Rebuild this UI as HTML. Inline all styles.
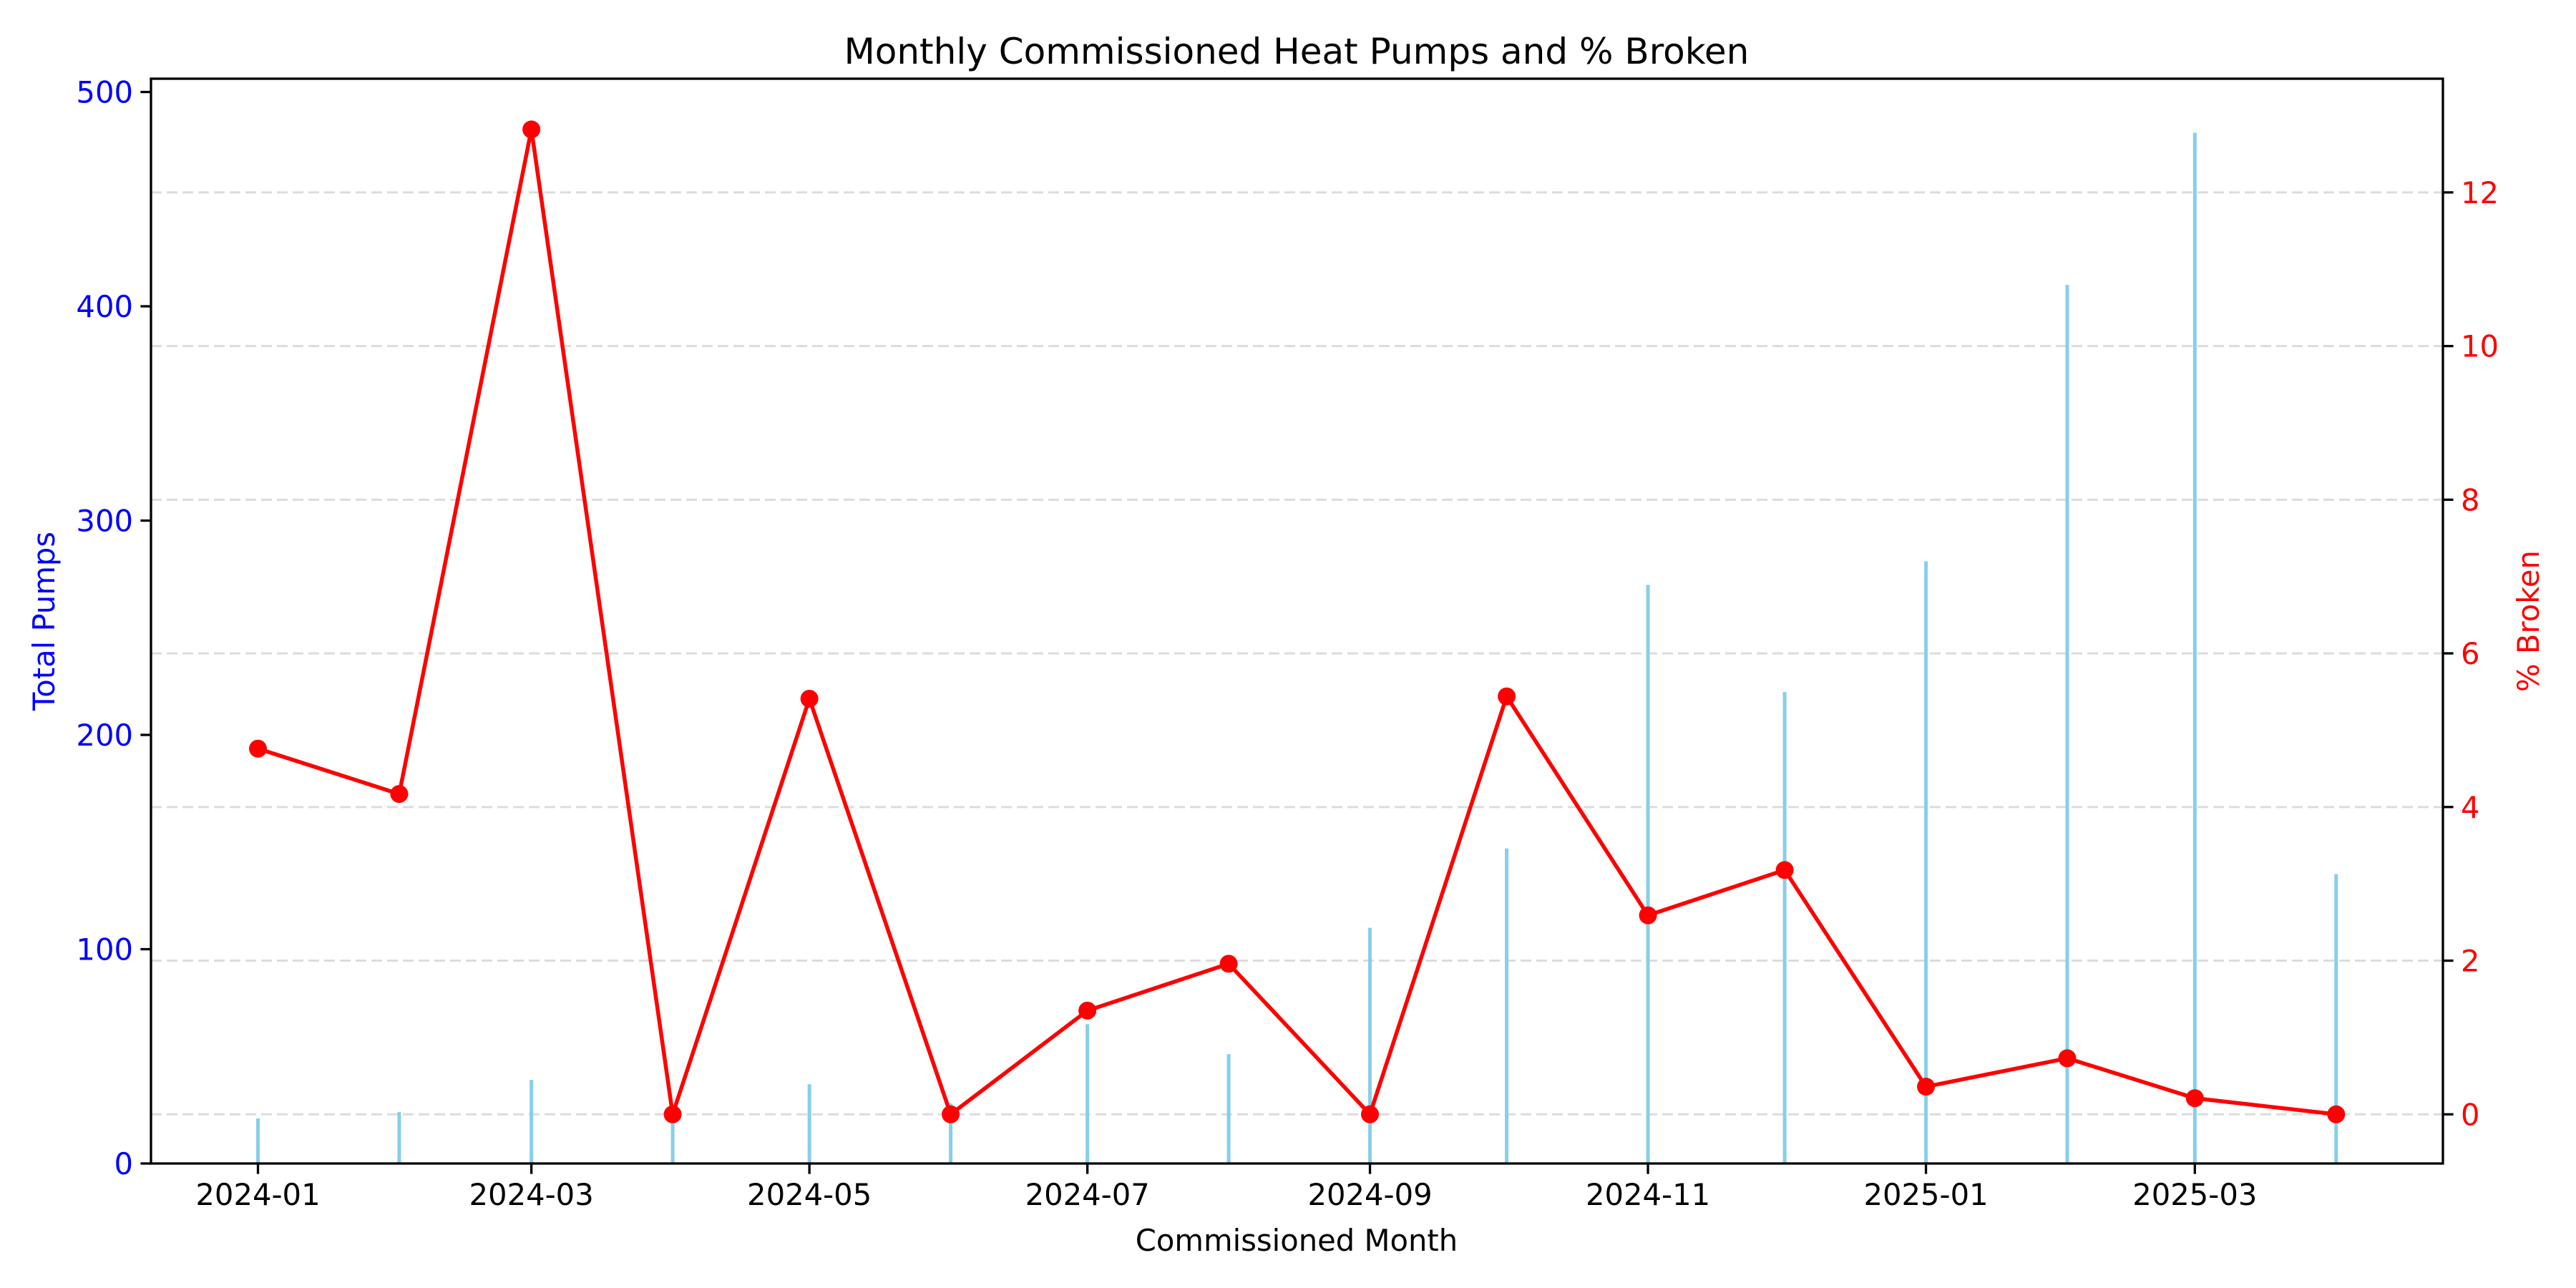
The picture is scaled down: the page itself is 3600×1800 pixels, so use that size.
<!DOCTYPE html>
<html><head><meta charset="utf-8"><style>
html,body{margin:0;padding:0;background:#fff;}
svg{display:block;font-family:"DejaVu Sans","Liberation Sans",sans-serif;}
</style></head><body>
<svg id="chart" width="3600" height="1800" viewBox="0 0 3600 1800" xmlns="http://www.w3.org/2000/svg">
<rect width="3600" height="1800" fill="#fff"/>
<g id="grid"></g>
<g id="bars"></g>
<g id="line"></g>
<g id="axes"></g>
<text x="1812" y="89" text-anchor="middle" font-size="50">Monthly Commissioned Heat Pumps and % Broken</text>
<text x="1812" y="1748" text-anchor="middle" font-size="41.7">Commissioned Month</text>
<text transform="translate(76,868) rotate(-90)" text-anchor="middle" font-size="41.7" fill="#0000ff">Total Pumps</text>
<text transform="translate(3548,868) rotate(-90)" text-anchor="middle" font-size="41.7" fill="#ff0000">% Broken</text>
</svg>
<script>
const months = ["2024-01","2024-02","2024-03","2024-04","2024-05","2024-06","2024-07","2024-08","2024-09","2024-10","2024-11","2024-12","2025-01","2025-02","2025-03","2025-04"];
const totalPumps = [21,24,39,27,37,28,65,51,110,147,270,220,281,410,481,135];
const pctBroken = [4.76,4.17,12.82,0,5.41,0,1.35,1.96,0,5.44,2.59,3.18,0.36,0.73,0.21,0];
const xTickLabels = ["2024-01","2024-03","2024-05","2024-07","2024-09","2024-11","2025-01","2025-03"];
const leftTicks = [0,100,200,300,400,500];
const rightTicks = [0,2,4,6,8,10,12];

const NS="http://www.w3.org/2000/svg";
const L=211,R=3414,T=110,B=1626;
const day0=Date.UTC(2024,0,1);
function dayOf(m){const [y,mo]=m.split("-").map(Number);return (Date.UTC(y,mo-1,1)-day0)/86400000;}
function xS(m){return 360.5+dayOf(m)*6.369;}
function yL(v){return B-(v/506.2)*(B-T);}
function yR(v){return B-((v+0.64)/(13.48+0.64))*(B-T);}
function mk(tag,attrs,parent){const e=document.createElementNS(NS,tag);for(const k in attrs)e.setAttribute(k,attrs[k]);parent.appendChild(e);return e;}

const grid=document.getElementById('grid');
rightTicks.forEach(t=>{
  const l=mk('line',{x1:L,x2:R,y1:yR(t),y2:yR(t),stroke:'#dcdcdc','stroke-width':3,'stroke-dasharray':'15 7'},grid);
  
  
});

const bars=document.getElementById('bars');
months.forEach((m,i)=>{
  const x=xS(m);
  const r=mk('rect',{x:x-2.5,y:yL(totalPumps[i]),width:5,height:B-yL(totalPumps[i]),fill:'#87ceeb'},bars);
  
  
});

const line=document.getElementById('line');
const pts=months.map((m,i)=>xS(m)+','+yR(pctBroken[i])).join(' ');
const pl=mk('polyline',{points:pts,fill:'none',stroke:'#ff0000','stroke-width':5.5,'stroke-linejoin':'round'},line);


months.forEach((m,i)=>{
  const c=mk('circle',{cx:xS(m),cy:yR(pctBroken[i]),r:12.5,fill:'#ff0000'},line);
  
  
});

const axes=document.getElementById('axes');
const frame=mk('rect',{x:L,y:T,width:R-L,height:B-T,fill:'none',stroke:'#000','stroke-width':3.3},axes);


xTickLabels.forEach(t=>{
  const x=xS(t);
  mk('line',{x1:x,x2:x,y1:B,y2:B+14.6,stroke:'#000','stroke-width':3.3},axes);
  const tx=mk('text',{x:x,y:B+58,'text-anchor':'middle','font-size':41.7},axes);
  tx.textContent=t;
  
  
});
leftTicks.forEach(t=>{
  const y=yL(t);
  mk('line',{x1:L-14.6,x2:L,y1:y,y2:y,stroke:'#000','stroke-width':3.3},axes);
  const tx=mk('text',{x:L-25,y:y+15,'text-anchor':'end','font-size':41.7,fill:'#0000ff'},axes);
  tx.textContent=t;
  
  
});
rightTicks.forEach(t=>{
  const y=yR(t);
  mk('line',{x1:R,x2:R+14.6,y1:y,y2:y,stroke:'#000','stroke-width':3.3},axes);
  const tx=mk('text',{x:R+25,y:y+15,'text-anchor':'start','font-size':41.7,fill:'#ff0000'},axes);
  tx.textContent=t;
  
  
});
</script>
</body></html>
